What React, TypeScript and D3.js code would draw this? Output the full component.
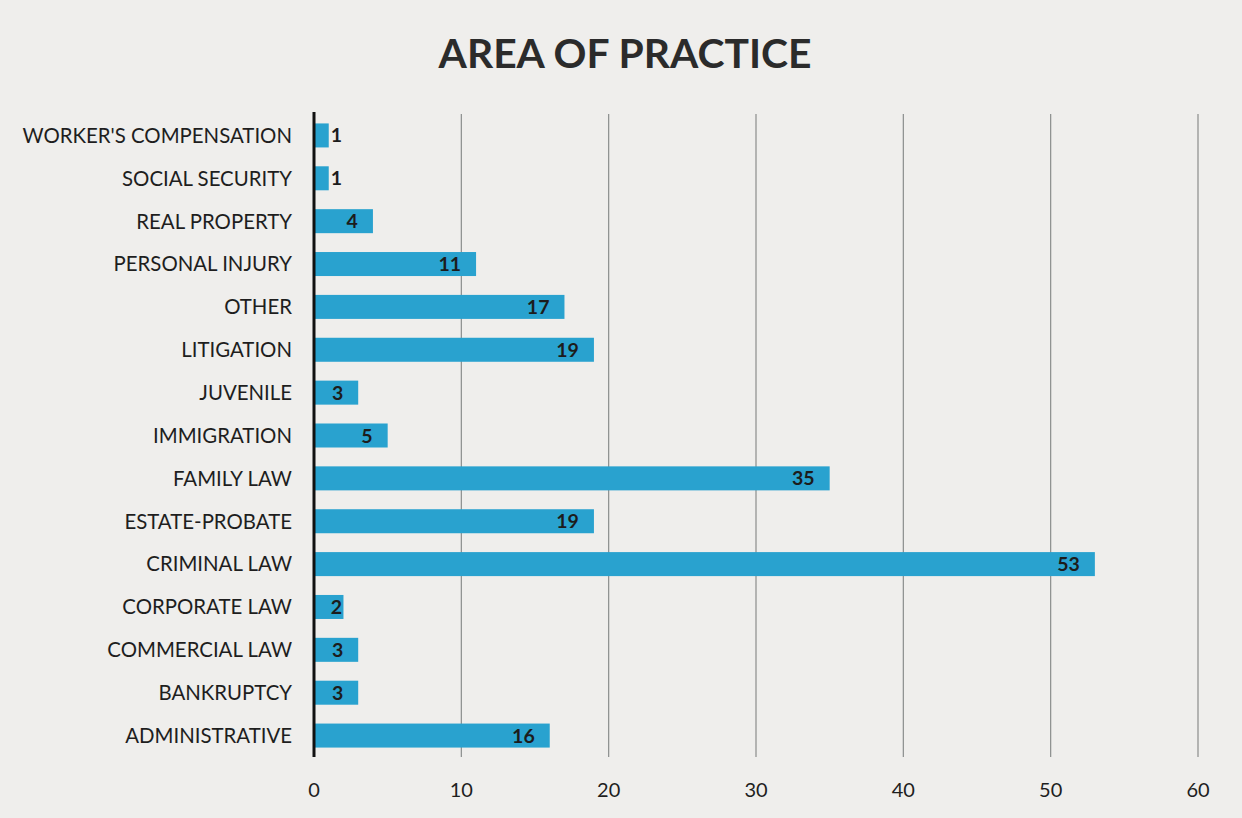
import React from "react";
import * as d3 from "d3";

const categories = [
  "WORKER'S COMPENSATION",
  "SOCIAL SECURITY",
  "REAL PROPERTY",
  "PERSONAL INJURY",
  "OTHER",
  "LITIGATION",
  "JUVENILE",
  "IMMIGRATION",
  "FAMILY LAW",
  "ESTATE-PROBATE",
  "CRIMINAL LAW",
  "CORPORATE LAW",
  "COMMERCIAL LAW",
  "BANKRUPTCY",
  "ADMINISTRATIVE",
];
const values = [1, 1, 4, 11, 17, 19, 3, 5, 35, 19, 53, 2, 3, 3, 16];
const xTicks = [0, 10, 20, 30, 40, 50, 60];
const title = "AREA OF PRACTICE";

const W = 1242;
const H = 818;
const FONT = "Lato, 'Open Sans', sans-serif";

export default function App() {
  const x = d3.scaleLinear().domain([0, 60]).range([314, 1198]);
  const y = d3
    .scaleBand<string>()
    .domain(categories)
    .range([114, 757])
    .paddingInner(0.44)
    .paddingOuter(0.22);
  const x0 = x(0);
  return (
    <div style={{ position: "fixed", left: 0, top: 0, width: W, height: H }}>
      <svg width={W} height={H} style={{ display: "block" }}>
        <rect x={0} y={0} width={W} height={H} fill="#efeeec" />
        <text
          x={625}
          y={68}
          textAnchor="middle"
          fontFamily={FONT}
          fontWeight={700}
          fontSize={40.8}
          fill="#2b2b2b"
        >
          {title}
        </text>
        {xTicks.slice(1).map((t) => (
          <line
            key={"g" + t}
            x1={x(t)}
            x2={x(t)}
            y1={114}
            y2={757}
            stroke="#8a8d8c"
            strokeWidth={1.2}
          />
        ))}
        {categories.map((c, i) => {
          const yy = y(c)!;
          const bw = y.bandwidth();
          const xe = x(values[i]);
          const labelEnd = Math.max(xe - 15, x0 + 28);
          return (
            <g key={c}>
              <rect x={x0} y={yy} width={xe - x0} height={bw} fill="#29a2cf" />
              <text
                x={292}
                y={yy + bw / 2}
                dy="0.36em"
                textAnchor="end"
                fontFamily={FONT}
                fontSize={20.4}
                fill="#1e1e1e"
              >
                {c}
              </text>
              <text
                x={labelEnd}
                y={yy + bw / 2}
                dy="0.36em"
                textAnchor="end"
                fontFamily={FONT}
                fontWeight={700}
                fontSize={19.5}
                fill="#1c1c1c"
              >
                {values[i]}
              </text>
            </g>
          );
        })}
        <line x1={x0} x2={x0} y1={112} y2={757} stroke="#111" strokeWidth={3} />
        {xTicks.map((t) => (
          <text
            key={"t" + t}
            x={x(t)}
            y={797}
            textAnchor="middle"
            fontFamily={FONT}
            fontSize={20}
            fill="#1e1e1e"
          >
            {t}
          </text>
        ))}
      </svg>
    </div>
  );
}
